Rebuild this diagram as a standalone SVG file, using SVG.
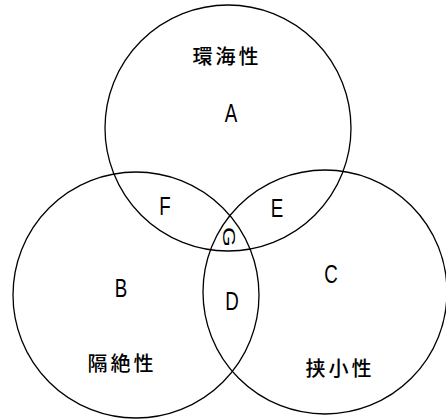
<svg xmlns="http://www.w3.org/2000/svg" width="446" height="419" viewBox="0 0 446 419">
<style>
.c{fill:none;stroke:#000;stroke-width:1.3}
.l{font-family:"Liberation Sans",sans-serif;font-size:25px;fill:#000;text-anchor:middle}
.k{font-family:"Noto Sans CJK JP","Noto Sans CJK SC",sans-serif;font-size:20px;fill:#000;text-anchor:middle;letter-spacing:3px;font-weight:500}
</style>
<rect width="446" height="419" fill="#fff"/>
<g id="connectors">
<circle id="circleA" class="c" cx="228" cy="128" r="123"/>
<circle id="circleB" class="c" cx="136" cy="295" r="123"/>
<circle id="circleC" class="c" cx="325" cy="292" r="122"/>
</g>
<g id="nodeA"><text class="l" transform="translate(231,122) scale(0.75,1)">A</text><text class="k" x="227" y="64" font-weight="bold">環海性</text></g>
<g id="nodeB"><text class="l" transform="translate(121,297) scale(0.75,1)">B</text><text class="k" x="122" y="371">隔絶性</text></g>
<g id="nodeC"><text class="l" transform="translate(331,283) scale(0.75,1)">C</text><text class="k" x="340" y="376">挟小性</text></g>
<g id="nodeD"><text class="l" transform="translate(232,310) scale(0.75,1)">D</text></g>
<g id="nodeE"><text class="l" transform="translate(277,217) scale(0.75,1)">E</text></g>
<g id="nodeF"><text class="l" transform="translate(165,215) scale(0.75,1)">F</text></g>
<g id="nodeG"><text class="l" style="font-size:17px" transform="translate(229,237) rotate(90) scale(1.5,1)" x="0" y="6">G</text></g>
</svg>
